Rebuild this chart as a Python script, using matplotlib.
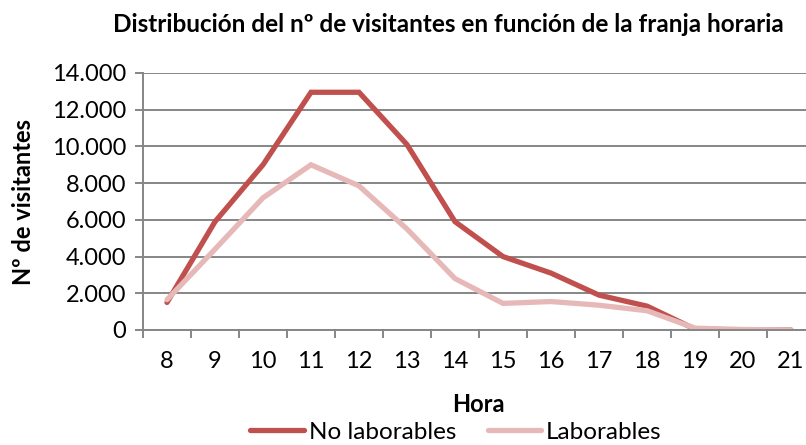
import matplotlib
matplotlib.use("Agg")
import matplotlib.pyplot as plt
from matplotlib.lines import Line2D

plt.rcParams['font.family'] = ['Lato', 'DejaVu Sans']

# datos
horas = ['8', '9', '10', '11', '12', '13', '14', '15', '16', '17', '18', '19', '20', '21']
no_laborables = [1500, 5900, 9000, 12950, 12950, 10100, 5900, 4000, 3100, 1900, 1300, 50, 0, 0]
laborables = [1650, 4400, 7200, 9000, 7850, 5500, 2800, 1450, 1550, 1350, 1050, 100, 30, 0]

rojo = '#C0504D'
rosa = '#E6B9B8'
gris = '#868686'

W, H = 806, 445
fig = plt.figure(figsize=(W / 100, H / 100), dpi=100)
# el área de trazado se sale un poco por la derecha, como en la imagen original
ax = fig.add_axes([143 / W, 1 - 330 / H, 672 / W, 257 / H])

x = list(range(len(horas)))
ax.plot(x, no_laborables, color=rojo, lw=3.8, solid_joinstyle='miter', solid_capstyle='round')
ax.plot(x, laborables, color=rosa, lw=3.8, solid_joinstyle='miter', solid_capstyle='round')

ax.set_xlim(-0.5, len(horas) - 0.5)
ax.set_ylim(0, 14000)
ax.set_yticks(range(0, 14001, 2000))
ax.set_yticklabels([f'{v:,}'.replace(',', '.') for v in range(0, 14001, 2000)], fontsize=17)
ax.yaxis.grid(True, color=gris, lw=1.4)
ax.set_axisbelow(True)

ax.set_xticks([i - 0.5 for i in x])
ax.set_xticklabels([])
ax.set_xticks(x, minor=True)
ax.set_xticklabels(horas, minor=True, fontsize=17)
ax.tick_params(axis='x', which='minor', length=0, pad=15)
ax.tick_params(axis='x', which='major', length=6, width=1.4, color=gris)
ax.tick_params(axis='y', length=6, width=1.4, color=gris, pad=6)

for s in ['top', 'right']:
    ax.spines[s].set_visible(False)
for s in ['left', 'bottom']:
    ax.spines[s].set_color(gris)
    ax.spines[s].set_linewidth(1.4)

fig.text(448 / W, 1 - 24 / H, 'Distribución del nº de visitantes en función de la franja horaria',
         ha='center', va='center', fontsize=17.5, fontweight='bold')
fig.text(24 / W, 1 - 202 / H, 'Nº de visitantes', rotation=90, ha='center', va='center',
         fontsize=17, fontweight='bold')
fig.text(478 / W, 1 - 405 / H, 'Hora', ha='center', va='center', fontsize=17, fontweight='bold')

handles = [Line2D([], [], color=rojo, lw=3.8, solid_capstyle='round'),
           Line2D([], [], color=rosa, lw=3.8, solid_capstyle='round')]
fig.legend(handles, ['No laborables', 'Laborables'], loc='center', bbox_to_anchor=(456 / W, 1 - 432 / H),
           ncol=2, frameon=False, fontsize=17.5, handlelength=2.2, handletextpad=0.2,
           columnspacing=1.3, borderpad=0)

fig.savefig('out.png', dpi=100)
